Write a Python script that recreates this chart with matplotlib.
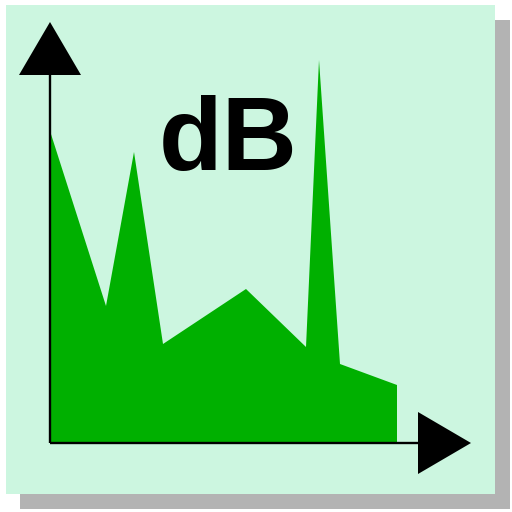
import matplotlib
matplotlib.use("Agg")
import matplotlib.pyplot as plt
from matplotlib.patches import Rectangle, Polygon

# spectrum data (frequency, level) in chart units; origin at axis corner
freq = [0, 56, 84, 113, 196, 256, 269, 290, 347]
level = [312, 137, 291, 99, 154, 96, 383, 79, 58]
label = "dB"

fig = plt.figure(figsize=(5.12, 5.12), dpi=100)
fig.patch.set_facecolor("white")
ax = fig.add_axes([0, 0, 1, 1])
ax.set_xlim(-50, 462)
ax.set_ylim(-69, 443)
ax.axis("off")

# shadow and panel
ax.add_patch(Rectangle((-30, -66), 490, 489, facecolor="#b3b3b3", edgecolor="none", zorder=0))
ax.add_patch(Rectangle((-44, -51), 489, 489, facecolor="#ccf6e0", edgecolor="none", zorder=1))

# filled spectrum
xs = freq + [freq[-1], freq[0]]
ys = level + [0, 0]
ax.fill(xs, ys, color="#00b000", linewidth=0, zorder=2)

# axes lines
ax.plot([0, 0], [0, 370], color="black", lw=1.7, zorder=3, solid_capstyle="butt")
ax.plot([0, 370], [0, 0], color="black", lw=1.7, zorder=3, solid_capstyle="butt")
ax.add_patch(Polygon([(0, 421), (-31, 368), (31, 368)], closed=True, facecolor="black", edgecolor="none", zorder=4))
ax.add_patch(Polygon([(421, 0), (368, 31), (368, -31)], closed=True, facecolor="black", edgecolor="none", zorder=4))

ax.text(178, 273, label, ha="center", va="baseline", fontsize=75,
        fontweight="bold", family="Liberation Sans", color="black", zorder=5)

fig.savefig("out.png", dpi=100, facecolor="white")
